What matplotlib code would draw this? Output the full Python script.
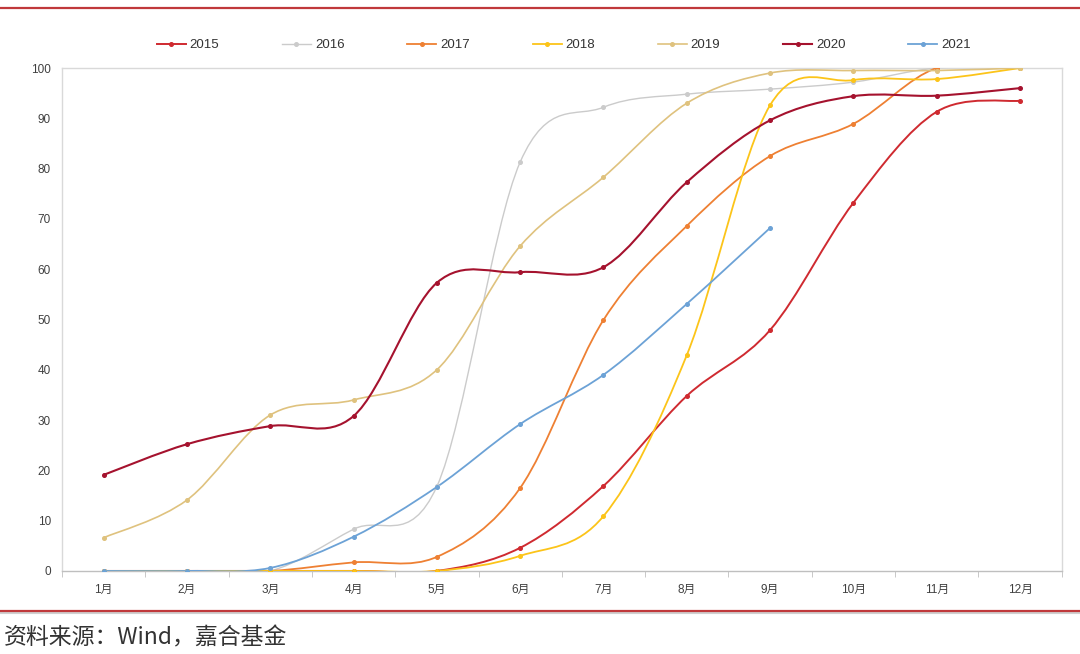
import numpy as np
import matplotlib
matplotlib.use("Agg")
import matplotlib.pyplot as plt
from matplotlib.path import Path
from matplotlib.patches import PathPatch
from matplotlib.lines import Line2D

plt.rcParams['font.family'] = ['Liberation Sans', 'Noto Sans CJK SC', 'DejaVu Sans']

# 数据：各年份累计进度（%）
months = ['1月', '2月', '3月', '4月', '5月', '6月', '7月', '8月', '9月', '10月', '11月', '12月']
years = ['2015', '2016', '2017', '2018', '2019', '2020', '2021']
v2015 = [0, 0, 0, 0, 0, 4.6, 16.9, 34.8, 47.9, 73.2, 91.3, 93.5]
v2016 = [0, 0, 0, 8.3, 16.8, 81.3, 92.2, 94.8, 95.8, 97.2, 100, 100]
v2017 = [0, 0, 0, 1.7, 2.8, 16.5, 49.9, 68.6, 82.5, 88.9, 100, 100]
v2018 = [0, 0, 0, 0, 0, 3.0, 10.9, 42.9, 92.6, 97.6, 97.8, 100]
v2019 = [6.6, 14.1, 31.0, 34.0, 40.0, 64.6, 78.3, 93.0, 99.0, 99.5, 99.5, 100]
v2020 = [19.1, 25.2, 28.8, 30.8, 57.3, 59.4, 60.4, 77.3, 89.6, 94.4, 94.5, 96.0]
v2021 = [0, 0, 0.6, 6.8, 16.7, 29.2, 39.0, 53.1, 68.2]

colors = ['#CF2A30', '#CBCBCB', '#EE8033', '#FCC419', '#DFC27E', '#A5122E', '#6CA2D6']
widths = [1.4, 1.0, 1.3, 1.3, 1.2, 1.5, 1.3]


def smooth_path(xs, ys):
    # Excel 风格平滑曲线：Catmull-Rom 转三次贝塞尔
    pts = np.column_stack([xs, ys]).astype(float)
    n = len(pts)
    verts = [pts[0]]
    codes = [Path.MOVETO]
    for i in range(n - 1):
        p0 = pts[max(i - 1, 0)]
        p1 = pts[i]
        p2 = pts[i + 1]
        p3 = pts[min(i + 2, n - 1)]
        c1 = p1 + (p2 - p0) / 6.0
        c2 = p2 - (p3 - p1) / 6.0
        verts += [c1, c2, p2]
        codes += [Path.CURVE4] * 3
    return Path(verts, codes)


fig = plt.figure(figsize=(10.8, 6.54), dpi=100)
ax = fig.add_axes([0.0574, 0.127, 0.9256, 0.769])

series = [v2015, v2016, v2017, v2018, v2019, v2020, v2021]
handles = []
for name, vals, c, lw in zip(years, series, colors, widths):
    x = np.arange(len(vals))
    patch = PathPatch(smooth_path(x, vals), facecolor='none', edgecolor=c, lw=lw, zorder=3)
    ax.add_patch(patch)
    ax.plot(x, vals, ls='none', marker='o', ms=2.6, color=c, zorder=4)
    handles.append(Line2D([], [], color=c, lw=lw, marker='o', ms=2.6))

ax.set_xlim(-0.5, 11.5)
ax.set_ylim(0, 100)
ax.set_yticks(range(0, 101, 10))
ax.set_xticks(range(12))
ax.set_xticklabels(months)
ax.set_xticks(np.arange(-0.5, 12, 1), minor=True)
ax.tick_params(axis='x', which='major', length=0, labelsize=8.5, pad=9, colors='#404040')
ax.tick_params(axis='x', which='minor', length=4, color='#BFBFBF', direction='out')
ax.tick_params(axis='y', length=0, labelsize=8.5, pad=8, colors='#404040')
for s in ax.spines.values():
    s.set_color('#D9D9D9')
    s.set_linewidth(1.0)
ax.spines['bottom'].set_color('#BFBFBF')

fig.legend(handles, years, loc='center', bbox_to_anchor=(0.522, 0.931), ncol=7,
           frameon=False, fontsize=9.5, handlelength=2.2, handletextpad=0.3,
           columnspacing=4.75, labelcolor='#333333')

# 上下红色分隔线
fig.add_artist(Line2D([0, 1], [0.988, 0.988], transform=fig.transFigure, color='#C0393B', lw=1.6))
fig.add_artist(Line2D([0, 1], [0.0625, 0.0625], transform=fig.transFigure, color='#D0D0D0', lw=1.5))
fig.add_artist(Line2D([0, 1], [0.065, 0.065], transform=fig.transFigure, color='#C0393B', lw=1.6))

fig.text(0.004, 0.024, '资料来源：Wind，嘉合基金', fontsize=16.5, color='#333333',
         family=['Noto Sans CJK SC', 'DejaVu Sans'], va='center', ha='left')

fig.savefig('out.png', dpi=100, facecolor='white')
